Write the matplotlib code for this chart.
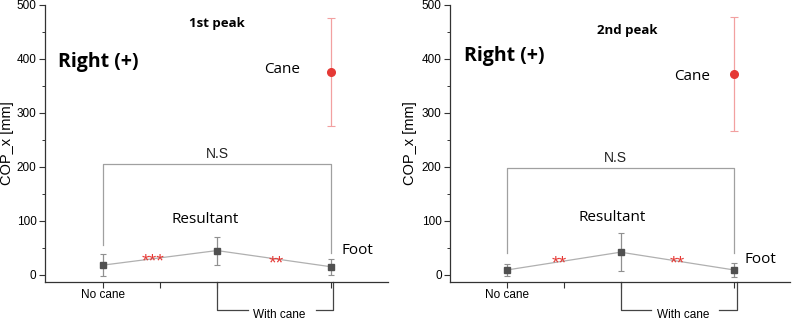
import matplotlib
matplotlib.use("Agg")
import matplotlib.pyplot as plt
import matplotlib.transforms as mtransforms
from matplotlib.ticker import MultipleLocator

# positions along x: No cane, Resultant, Foot (Cane sits on Foot position)
conditions = ["No cane", "Resultant", "Foot"]
x_pos = [1, 2, 3]

peaks = ["1st peak", "2nd peak"]
mean_vals = [[18, 45, 15], [9, 42, 9]]
err_vals = [[20, 26, 15], [12, 35, 13]]
cane_mean = [375, 372]
cane_err = [100, 105]
stars = [["***", "**"], ["**", "**"]]
ns_height = [205, 197]

plt.rcParams['font.family'] = ['Liberation Sans', 'DejaVu Sans']

fig = plt.figure(figsize=(8, 3.27), dpi=100)
axes = [fig.add_axes([0.056, 0.138, 0.429, 0.847]),
        fig.add_axes([0.5625, 0.138, 0.425, 0.847])]
xlims = [(0.49, 3.5), (0.5, 3.49)]
ylabel_x = [-0.09, -0.097]
label_font = 'Open Sans'

for i, ax in enumerate(axes):
    m = mean_vals[i]
    e = err_vals[i]
    ax.plot(x_pos, m, color='#b0b0b0', lw=0.9, zorder=2)
    ax.errorbar(x_pos, m, yerr=e, fmt='s', ms=5, color='#505050',
                ecolor='#909090', elinewidth=0.9, capsize=2.5, capthick=0.8, zorder=3)
    ax.errorbar([3], [cane_mean[i]], yerr=[cane_err[i]], fmt='o', ms=5.5,
                color='#e53935', ecolor='#f2a0a0', elinewidth=0.9, capsize=3,
                capthick=0.8, zorder=3)

    ax.set_xlim(*xlims[i])
    ax.set_ylim(-13, 500)
    for s in ['top', 'right']:
        ax.spines[s].set_visible(False)
    for s in ['left', 'bottom']:
        ax.spines[s].set_color('#333333')
        ax.spines[s].set_linewidth(0.9)
    ax.yaxis.set_major_locator(MultipleLocator(100))
    ax.yaxis.set_minor_locator(MultipleLocator(50))
    ax.tick_params(axis='y', which='major', length=4, width=0.8, labelsize=8.5,
                   color='#333333', pad=2)
    ax.tick_params(axis='y', which='minor', length=2, width=0.7, color='#333333')
    ax.set_xticks([1, 1.5, 2, 3])
    ax.set_xticklabels([])
    ax.tick_params(axis='x', length=4, width=0.8, color='#333333')
    ax.set_ylabel("COP_x [mm]", fontsize=10.5)
    ax.yaxis.set_label_coords(ylabel_x[i], 0.5)

    # N.S bracket
    ax.plot([1, 1, 3, 3], [55 if i == 0 else 41, ns_height[i], ns_height[i], 41],
            color='#a0a0a0', lw=0.9, zorder=1)
    ax.text(2 if i == 0 else 1.95, ns_height[i] + 6, "N.S", ha='center',
            va='bottom', fontsize=10, color='#222222')

    # significance stars
    ax.text(1.44 if i == 0 else 1.46, 24 - 4 * i, stars[i][0], color='#e53935',
            ha='center', va='center', fontsize=14)
    ax.text(2.52 if i == 0 else 2.5, 20, stars[i][1], color='#e53935',
            ha='center', va='center', fontsize=14)

    # annotations
    ax.text(2.0 if i == 0 else 2.06, 465 if i == 0 else 453, peaks[i],
            ha='center', va='center', fontsize=9.5, fontweight='bold',
            family=label_font)
    ax.text(0.61 if i == 0 else 0.62, 395 if i == 0 else 405, "Right (+)",
            ha='left', va='center', fontsize=14, fontweight='bold',
            family=label_font)
    ax.text(2.57 if i == 0 else 2.63, 381 if i == 0 else 368, "Cane",
            ha='center', va='center', fontsize=11, family=label_font)
    ax.text(1.9 if i == 0 else 1.93, 102 if i == 0 else 107, conditions[1],
            ha='center', va='center', fontsize=11, family=label_font)
    ax.text(3.09, 45 if i == 0 else 28, conditions[2], ha='left', va='center',
            fontsize=11, family=label_font)

    # x-axis group labels below axis
    trans = mtransforms.blended_transform_factory(ax.transData, fig.transFigure)
    ax.text(1, 1 - 295 / 327, conditions[0], transform=trans, ha='center',
            va='center', fontsize=8.5)
    yb = 1 - 310 / 327
    ya = 1 - 282 / 327
    ax.plot([2, 2, 2.27], [ya, yb, yb], color='#444444', lw=0.9,
            transform=trans, clip_on=False)
    ax.plot([2.87, 3.02, 3.02], [yb, yb, ya], color='#444444', lw=0.9,
            transform=trans, clip_on=False)
    ax.text(2.55, 1 - 315 / 327, "With cane", transform=trans, ha='center',
            va='center', fontsize=8.5)

fig.savefig("out.png", dpi=100)
